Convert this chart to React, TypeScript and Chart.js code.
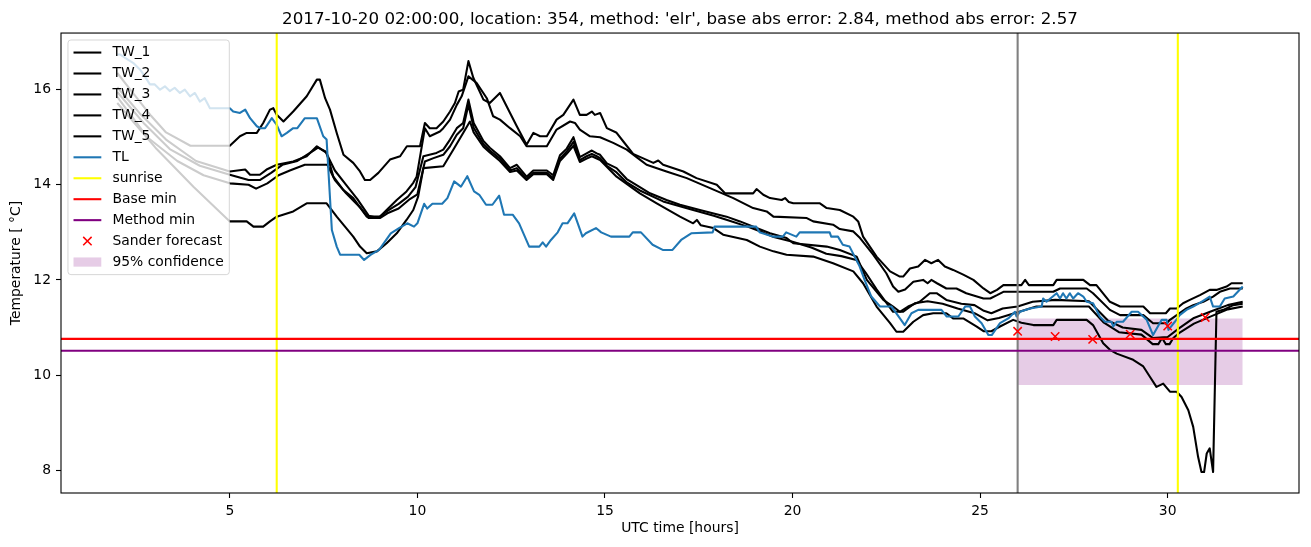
import React, { useEffect, useRef } from 'react';
import { Chart, registerables } from 'chart.js';

Chart.register(...registerables);

// ---------- axis ranges & ticks ----------
const X_MIN = 0.5;
const X_MAX = 33.5;
const Y_MIN = 7.52;
const Y_MAX = 17.19;
const X_TICKS = [5, 10, 15, 20, 25, 30];
const Y_TICKS = [8, 10, 12, 14, 16];

const TITLE = "2017-10-20 02:00:00, location: 354, method: 'elr', base abs error: 2.84, method abs error: 2.57";
const X_LABEL = 'UTC time [hours]';
const Y_LABEL = 'Temperature [ °C]';

// ---------- series (hours, °C) ----------
const TW_1: [number, number][] = [
  [2.0, 16.35], [2.4, 15.95], [2.9, 15.45], [3.3, 15.1], [3.95, 14.82], [5.0, 14.82], [5.27, 15.02], [5.45, 15.09], [5.72, 15.09], [5.89, 15.3], [6.07, 15.58], [6.16, 15.61], [6.25, 15.47], [6.43, 15.33], [6.69, 15.54], [7.05, 15.86], [7.32, 16.21], [7.4, 16.21], [7.54, 15.82], [7.67, 15.58], [7.85, 15.09], [8.03, 14.63], [8.29, 14.46], [8.47, 14.28], [8.6, 14.1], [8.74, 14.1], [8.96, 14.25], [9.27, 14.53], [9.54, 14.6], [9.72, 14.81], [10.07, 14.81], [10.2, 15.3], [10.33, 15.19], [10.51, 15.19], [10.69, 15.33], [10.87, 15.54], [11.0, 15.72], [11.1, 15.96], [11.22, 16.0], [11.36, 16.6], [11.49, 16.25], [11.76, 15.79], [11.93, 15.72], [12.2, 15.93], [12.47, 15.51], [12.65, 15.23], [12.91, 14.84], [13.09, 15.09], [13.27, 15.02], [13.45, 15.02], [13.71, 15.37], [13.89, 15.47], [14.16, 15.79], [14.33, 15.47], [14.51, 15.47], [14.65, 15.54], [14.73, 15.47], [14.87, 15.51], [15.05, 15.19], [15.3, 15.1], [15.49, 14.91], [15.75, 14.65], [16.29, 14.46], [16.42, 14.51], [16.55, 14.42], [17.09, 14.28], [17.44, 14.14], [17.98, 14.0], [18.2, 13.82], [18.95, 13.82], [19.04, 13.91], [19.22, 13.79], [19.4, 13.72], [19.71, 13.68], [19.8, 13.72], [19.9, 13.64], [20.02, 13.61], [20.73, 13.61], [20.91, 13.51], [21.26, 13.47], [21.62, 13.33], [21.75, 13.23], [21.88, 12.91], [22.24, 12.49], [22.6, 12.18], [22.86, 12.07], [22.95, 12.07], [23.13, 12.24], [23.35, 12.28], [23.53, 12.42], [23.7, 12.35], [23.88, 12.42], [24.06, 12.28], [24.28, 12.21], [24.55, 12.11], [24.82, 12.0], [25.09, 11.82], [25.27, 11.72], [25.45, 11.79], [25.62, 11.89], [26.1, 11.89], [26.2, 12.0], [26.3, 11.89], [26.95, 11.89], [27.04, 12.0], [27.75, 12.0], [27.93, 11.89], [28.1, 11.89], [28.46, 11.54], [28.73, 11.44], [29.35, 11.44], [29.53, 11.3], [29.95, 11.3], [30.06, 11.4], [30.24, 11.4], [30.41, 11.51], [30.59, 11.58], [30.86, 11.68], [31.12, 11.79], [31.3, 11.79], [31.57, 11.86], [31.7, 11.93], [32.0, 11.93],
];

const TW_2: [number, number][] = [
  [2.0, 16.05], [2.6, 15.5], [3.3, 14.95], [4.1, 14.5], [5.0, 14.28], [5.41, 14.32], [5.54, 14.21], [5.8, 14.21], [5.98, 14.32], [6.25, 14.42], [6.69, 14.49], [7.05, 14.6], [7.32, 14.81], [7.45, 14.74], [7.58, 14.67], [7.76, 14.17], [8.03, 13.89], [8.29, 13.72], [8.65, 13.33], [9.0, 13.33], [9.18, 13.47], [9.45, 13.68], [9.71, 13.86], [9.89, 14.04], [9.98, 14.17], [10.2, 15.19], [10.33, 15.02], [10.6, 15.12], [10.69, 15.19], [10.87, 15.37], [11.05, 15.68], [11.18, 15.86], [11.36, 16.28], [11.58, 16.14], [11.85, 15.82], [12.02, 15.44], [12.2, 15.37], [12.47, 15.19], [12.74, 15.02], [12.91, 14.81], [13.45, 14.81], [13.71, 15.16], [14.07, 15.33], [14.2, 15.3], [14.33, 15.16], [14.6, 15.02], [14.87, 15.0], [15.22, 14.88], [15.58, 14.74], [15.93, 14.53], [16.11, 14.42], [16.64, 14.28], [17.18, 14.14], [17.8, 13.93], [18.42, 13.72], [18.95, 13.51], [19.31, 13.44], [19.49, 13.33], [20.38, 13.3], [20.55, 13.23], [21.08, 13.16], [21.26, 13.07], [21.62, 13.02], [21.8, 12.88], [22.15, 12.53], [22.5, 12.14], [22.68, 11.86], [22.82, 11.75], [23.0, 11.8], [23.22, 11.96], [23.48, 12.0], [23.6, 11.93], [23.7, 12.0], [23.85, 11.93], [24.1, 11.82], [24.37, 11.82], [24.63, 11.72], [25.09, 11.61], [25.27, 11.61], [25.45, 11.68], [25.62, 11.75], [26.95, 11.75], [27.13, 11.82], [27.84, 11.82], [28.01, 11.72], [28.46, 11.37], [28.73, 11.26], [29.35, 11.26], [29.61, 11.09], [29.97, 11.09], [30.06, 11.16], [30.5, 11.4], [30.68, 11.47], [30.95, 11.54], [31.21, 11.65], [31.39, 11.75], [31.66, 11.82], [32.0, 11.82],
];

const TW_3: [number, number][] = [
  [2.0, 15.95], [2.7, 15.3], [3.4, 14.75], [4.2, 14.4], [5.0, 14.21], [5.5, 14.1], [5.8, 14.1], [6.1, 14.25], [6.4, 14.42], [6.8, 14.5], [7.2, 14.7], [7.35, 14.78], [7.55, 14.7], [7.8, 14.3], [8.1, 14.0], [8.4, 13.7], [8.7, 13.35], [8.95, 13.3], [9.2, 13.45], [9.5, 13.6], [9.75, 13.75], [9.95, 13.95], [10.16, 14.6], [10.51, 14.67], [10.69, 14.74], [10.87, 14.95], [11.05, 15.19], [11.22, 15.3], [11.36, 15.79], [11.5, 15.3], [11.76, 14.92], [11.93, 14.78], [12.2, 14.6], [12.47, 14.35], [12.65, 14.42], [12.91, 14.17], [13.09, 14.3], [13.45, 14.3], [13.62, 14.2], [13.8, 14.62], [13.98, 14.76], [14.16, 15.0], [14.33, 14.58], [14.51, 14.66], [14.65, 14.72], [14.78, 14.66], [14.87, 14.63], [15.05, 14.45], [15.31, 14.35], [15.58, 14.12], [15.93, 13.95], [16.2, 13.82], [16.64, 13.68], [17.0, 13.58], [17.53, 13.47], [18.24, 13.33], [18.6, 13.23], [19.04, 13.09], [19.4, 12.98], [19.84, 12.88], [20.02, 12.77], [20.91, 12.7], [21.26, 12.63], [21.71, 12.49], [21.98, 12.0], [22.42, 11.58], [22.68, 11.44], [22.86, 11.33], [23.08, 11.44], [23.39, 11.54], [23.66, 11.72], [23.84, 11.72], [24.1, 11.58], [24.5, 11.5], [24.85, 11.47], [25.1, 11.35], [25.3, 11.3], [25.6, 11.4], [26.0, 11.44], [26.4, 11.54], [27.0, 11.58], [27.9, 11.55], [28.4, 11.15], [28.8, 11.0], [29.3, 10.95], [29.6, 10.78], [30.0, 10.8], [30.3, 10.98], [30.7, 11.2], [31.2, 11.35], [31.6, 11.47], [32.0, 11.54],
];

const TW_4: [number, number][] = [
  [2.0, 15.85], [2.8, 15.0], [3.6, 14.5], [4.3, 14.2], [5.0, 14.03], [5.5, 14.0], [5.7, 13.92], [6.0, 14.03], [6.3, 14.2], [6.6, 14.3], [7.0, 14.42], [7.6, 14.42], [7.8, 14.1], [8.1, 13.82], [8.5, 13.5], [8.7, 13.3], [9.0, 13.3], [9.2, 13.4], [9.5, 13.5], [9.8, 13.7], [10.0, 13.8], [10.2, 14.49], [10.43, 14.56], [10.69, 14.63], [10.87, 14.81], [11.05, 15.05], [11.22, 15.19], [11.36, 15.68], [11.5, 15.2], [11.76, 14.85], [11.93, 14.72], [12.2, 14.55], [12.47, 14.3], [12.65, 14.35], [12.91, 14.12], [13.09, 14.25], [13.45, 14.25], [13.62, 14.14], [13.8, 14.55], [13.98, 14.7], [14.16, 14.9], [14.33, 14.52], [14.51, 14.6], [14.65, 14.65], [14.78, 14.6], [14.87, 14.56], [15.05, 14.4], [15.31, 14.26], [15.58, 14.05], [15.93, 13.88], [16.55, 13.65], [17.35, 13.47], [17.9, 13.35], [18.3, 13.25], [18.8, 13.12], [19.2, 13.0], [19.5, 12.9], [20.0, 12.8], [20.5, 12.68], [20.9, 12.55], [21.3, 12.5], [21.7, 12.42], [21.95, 12.15], [22.24, 11.8], [22.68, 11.33], [22.95, 11.33], [23.26, 11.51], [23.6, 11.55], [24.0, 11.5], [24.4, 11.4], [24.85, 11.3], [25.2, 11.15], [25.5, 11.2], [26.0, 11.32], [26.5, 11.44], [27.9, 11.44], [28.3, 11.1], [28.7, 10.9], [29.3, 10.85], [29.6, 10.65], [29.75, 10.65], [29.85, 10.78], [29.95, 10.65], [30.05, 10.65], [30.15, 10.78], [30.3, 10.88], [30.7, 11.08], [31.2, 11.25], [31.6, 11.38], [32.0, 11.44],
];

const TW_5: [number, number][] = [
  [2.0, 15.72], [3.05, 14.75], [4.03, 13.96], [5.0, 13.23], [5.45, 13.23], [5.63, 13.12], [5.89, 13.12], [6.07, 13.23], [6.25, 13.33], [6.69, 13.44], [7.05, 13.61], [7.58, 13.61], [7.85, 13.33], [8.29, 12.91], [8.47, 12.7], [8.65, 12.56], [8.92, 12.6], [9.18, 12.77], [9.45, 12.98], [9.71, 13.26], [9.89, 13.47], [10.02, 13.75], [10.16, 14.35], [10.69, 14.39], [10.96, 14.74], [11.22, 15.09], [11.4, 15.33], [11.5, 15.1], [11.76, 14.8], [11.93, 14.68], [12.2, 14.5], [12.47, 14.27], [12.65, 14.3], [12.91, 14.1], [13.09, 14.22], [13.45, 14.22], [13.62, 14.1], [13.8, 14.5], [13.98, 14.65], [14.16, 14.82], [14.33, 14.48], [14.51, 14.55], [14.65, 14.6], [14.87, 14.52], [15.31, 14.17], [15.93, 13.82], [16.38, 13.61], [17.0, 13.33], [17.35, 13.19], [17.45, 13.26], [17.55, 13.15], [17.89, 13.09], [18.15, 12.95], [18.78, 12.84], [19.13, 12.7], [19.49, 12.6], [19.84, 12.53], [20.55, 12.49], [21.08, 12.35], [21.62, 12.18], [21.88, 11.93], [22.24, 11.44], [22.6, 11.09], [22.77, 10.91], [22.95, 10.91], [23.22, 11.12], [23.48, 11.26], [23.75, 11.3], [24.1, 11.3], [24.28, 11.19], [24.55, 11.19], [24.91, 11.02], [25.1, 10.92], [25.3, 10.92], [25.53, 11.02], [25.88, 11.16], [26.1, 11.1], [26.42, 11.05], [26.95, 11.05], [27.04, 11.16], [27.84, 11.16], [28.01, 11.05], [28.28, 10.67], [28.46, 10.53], [28.64, 10.45], [29.08, 10.32], [29.35, 10.18], [29.53, 9.96], [29.7, 9.75], [29.88, 9.82], [30.06, 9.65], [30.24, 9.65], [30.37, 9.54], [30.55, 9.26], [30.68, 8.91], [30.81, 8.28], [30.9, 7.96], [30.97, 7.96], [31.04, 8.35], [31.12, 8.46], [31.21, 7.96], [31.3, 11.33], [31.48, 11.37], [31.75, 11.47], [32.0, 11.5],
];

const TL: [number, number][] = [
  [2.0, 16.74], [2.07, 16.74], [2.21, 16.67], [2.43, 16.56], [2.61, 16.42], [2.79, 16.21], [2.87, 16.11], [3.0, 16.11], [3.14, 16.0], [3.27, 16.07], [3.4, 15.97], [3.53, 16.04], [3.67, 15.93], [3.8, 16.0], [3.94, 15.86], [4.07, 15.93], [4.2, 15.75], [4.33, 15.82], [4.47, 15.61], [5.0, 15.61], [5.09, 15.54], [5.27, 15.51], [5.41, 15.58], [5.54, 15.4], [5.72, 15.23], [5.81, 15.19], [5.94, 15.19], [6.12, 15.4], [6.25, 15.26], [6.38, 15.02], [6.52, 15.09], [6.69, 15.19], [6.8, 15.19], [7.0, 15.4], [7.32, 15.4], [7.49, 15.02], [7.58, 14.95], [7.72, 13.05], [7.85, 12.7], [7.94, 12.53], [8.45, 12.53], [8.58, 12.42], [8.76, 12.53], [8.98, 12.63], [9.29, 12.98], [9.51, 13.09], [9.73, 13.19], [9.91, 13.12], [10.0, 13.19], [10.18, 13.6], [10.26, 13.5], [10.4, 13.6], [10.66, 13.6], [10.8, 13.72], [10.98, 14.07], [11.16, 13.96], [11.33, 14.18], [11.51, 13.86], [11.65, 13.79], [11.83, 13.58], [12.0, 13.58], [12.18, 13.77], [12.31, 13.37], [12.54, 13.37], [12.71, 13.19], [12.98, 12.7], [13.25, 12.7], [13.34, 12.79], [13.43, 12.7], [13.56, 12.84], [13.74, 13.0], [13.87, 13.19], [14.0, 13.19], [14.18, 13.4], [14.4, 12.91], [14.49, 12.98], [14.76, 13.09], [14.9, 13.0], [15.16, 12.91], [15.65, 12.91], [15.74, 13.0], [15.96, 13.0], [16.27, 12.74], [16.54, 12.63], [16.8, 12.63], [17.03, 12.84], [17.3, 12.98], [17.87, 13.0], [17.92, 13.12], [19.03, 13.12], [19.12, 13.0], [19.47, 12.91], [19.74, 12.91], [19.83, 13.0], [20.1, 12.91], [20.19, 13.0], [20.99, 13.0], [21.03, 12.91], [21.21, 12.91], [21.34, 12.74], [21.52, 12.7], [21.79, 12.28], [21.92, 12.0], [22.1, 11.65], [22.33, 11.44], [22.64, 11.44], [22.99, 11.05], [23.17, 11.3], [23.35, 11.37], [23.97, 11.37], [24.11, 11.23], [24.42, 11.23], [24.6, 11.44], [24.73, 11.44], [24.86, 11.23], [25.04, 11.09], [25.22, 10.84], [25.31, 10.84], [25.53, 11.09], [25.75, 11.19], [25.93, 11.33], [25.97, 11.23], [26.06, 11.33], [26.33, 11.4], [26.64, 11.44], [26.68, 11.61], [26.77, 11.54], [27.04, 11.72], [27.13, 11.61], [27.21, 11.72], [27.3, 11.61], [27.39, 11.72], [27.48, 11.61], [27.61, 11.72], [27.75, 11.65], [27.84, 11.54], [28.01, 11.51], [28.19, 11.23], [28.33, 11.12], [28.5, 11.12], [28.55, 11.02], [28.64, 11.12], [28.81, 11.12], [29.04, 11.33], [29.21, 11.33], [29.44, 11.16], [29.61, 10.84], [29.84, 11.16], [29.97, 11.16], [30.02, 10.95], [30.19, 11.12], [30.32, 11.26], [30.5, 11.37], [30.68, 11.44], [30.9, 11.54], [31.12, 11.65], [31.21, 11.44], [31.39, 11.44], [31.52, 11.61], [31.75, 11.65], [32.0, 11.86],
];

const SUNRISE = [6.25, 30.27];
const FORECAST_START = 26;
const BASE_MIN = 10.76;
const METHOD_MIN = 10.51;
const SANDER_X = [26, 27, 28, 29, 30, 31];
const SANDER_Y = [10.92, 10.81, 10.75, 10.86, 11.03, 11.21];
const CONF_X = [26, 32];
const CONF_LOW = 9.79;
const CONF_HIGH = 11.19;

// ---------- styling ----------
const FONT = '"DejaVu Sans", sans-serif';
const LW = 2.08;
const BLUE = '#1f77b4';
const CONF_COLOR = 'rgba(128,0,128,0.2)';

type LegendItem = { label: string; kind: 'line' | 'marker' | 'patch'; color: string };
const LEGEND: LegendItem[] = [
  { label: 'TW_1', kind: 'line', color: '#000000' },
  { label: 'TW_2', kind: 'line', color: '#000000' },
  { label: 'TW_3', kind: 'line', color: '#000000' },
  { label: 'TW_4', kind: 'line', color: '#000000' },
  { label: 'TW_5', kind: 'line', color: '#000000' },
  { label: 'TL', kind: 'line', color: BLUE },
  { label: 'sunrise', kind: 'line', color: '#ffff00' },
  { label: 'Base min', kind: 'line', color: '#ff0000' },
  { label: 'Method min', kind: 'line', color: '#800080' },
  { label: 'Sander forecast', kind: 'marker', color: '#ff0000' },
  { label: '95% confidence', kind: 'patch', color: CONF_COLOR },
];

const pts = (arr: [number, number][]) => arr.map(([x, y]) => ({ x, y }));

const lineDs = (label: string, data: { x: number; y: number | null }[], color: string, order: number, width = LW) => ({
  label,
  data,
  borderColor: color,
  backgroundColor: color,
  borderWidth: width,
  pointRadius: 0,
  tension: 0,
  fill: false,
  borderJoinStyle: 'round' as const,
  order,
});

const frameLegendPlugin = {
  id: 'frameLegend',
  afterDatasetsDraw(chart: any) {
    const { ctx, chartArea: a } = chart;
    ctx.save();
    // frame (all four spines)
    ctx.strokeStyle = '#000';
    ctx.lineWidth = 1.1;
    ctx.strokeRect(a.left, a.top, a.right - a.left, a.bottom - a.top);

    // legend
    const fs = 13.9;
    ctx.font = `${fs}px ${FONT}`;
    const pad = 5.56;
    const handleLen = 27.8;
    const textPad = 11.1;
    const rowH = 20.95;
    const spacing = 6.95;
    const maxW = Math.max(...LEGEND.map((l) => ctx.measureText(l.label).width));
    const bx = a.left + 6.95;
    const by = a.top + 6.95;
    const bw = pad * 2 + handleLen + textPad + maxW;
    const bh = pad * 2 + LEGEND.length * rowH - spacing;
    const r = 3;
    ctx.beginPath();
    ctx.moveTo(bx + r, by);
    ctx.lineTo(bx + bw - r, by);
    ctx.arcTo(bx + bw, by, bx + bw, by + r, r);
    ctx.lineTo(bx + bw, by + bh - r);
    ctx.arcTo(bx + bw, by + bh, bx + bw - r, by + bh, r);
    ctx.lineTo(bx + r, by + bh);
    ctx.arcTo(bx, by + bh, bx, by + bh - r, r);
    ctx.lineTo(bx, by + r);
    ctx.arcTo(bx, by, bx + r, by, r);
    ctx.closePath();
    ctx.fillStyle = 'rgba(255,255,255,0.8)';
    ctx.fill();
    ctx.strokeStyle = 'rgba(204,204,204,0.8)';
    ctx.lineWidth = 1;
    ctx.stroke();

    LEGEND.forEach((item, i) => {
      const cy = by + pad + (rowH - spacing) / 2 + i * rowH;
      const hx = bx + pad;
      if (item.kind === 'line') {
        ctx.strokeStyle = item.color;
        ctx.lineWidth = LW;
        ctx.beginPath();
        ctx.moveTo(hx, cy);
        ctx.lineTo(hx + handleLen, cy);
        ctx.stroke();
      } else if (item.kind === 'marker') {
        const cx = hx + handleLen / 2;
        const h = 4.2;
        ctx.strokeStyle = item.color;
        ctx.lineWidth = 1.5;
        ctx.beginPath();
        ctx.moveTo(cx - h, cy - h);
        ctx.lineTo(cx + h, cy + h);
        ctx.moveTo(cx - h, cy + h);
        ctx.lineTo(cx + h, cy - h);
        ctx.stroke();
      } else {
        ctx.fillStyle = item.color;
        ctx.fillRect(hx, cy - 4.6, handleLen, 9.2);
      }
      ctx.fillStyle = '#000';
      ctx.textBaseline = 'middle';
      ctx.textAlign = 'left';
      ctx.fillText(item.label, hx + handleLen + textPad, cy);
    });
    ctx.restore();
  },
};

export default function App() {
  const ref = useRef<HTMLCanvasElement>(null);

  useEffect(() => {
    document.body.style.margin = '0';
    Chart.defaults.font.family = FONT;
    Chart.defaults.color = '#000';

    const datasets: any[] = [
      {
        label: 'Sander forecast',
        data: SANDER_X.map((x, i) => ({ x, y: SANDER_Y[i] })),
        showLine: false,
        pointStyle: 'crossRot',
        pointRadius: 5.9,
        pointBorderWidth: 1.5,
        pointBorderColor: '#ff0000',
        pointBackgroundColor: '#ff0000',
        borderColor: '#ff0000',
        order: 0,
      },
      lineDs('Method min', [{ x: X_MIN, y: METHOD_MIN }, { x: X_MAX, y: METHOD_MIN }], '#800080', 1),
      lineDs('Base min', [{ x: X_MIN, y: BASE_MIN }, { x: X_MAX, y: BASE_MIN }], '#ff0000', 2),
      lineDs('sunrise', [{ x: SUNRISE[0], y: Y_MIN }, { x: SUNRISE[0], y: Y_MAX }], '#ffff00', 3),
      lineDs('sunrise 2', [{ x: SUNRISE[1], y: Y_MIN }, { x: SUNRISE[1], y: Y_MAX }], '#ffff00', 3),
      lineDs('forecast start', [{ x: FORECAST_START, y: Y_MIN }, { x: FORECAST_START, y: Y_MAX }], '#808080', 4),
      lineDs('TL', pts(TL), BLUE, 5),
      lineDs('TW_5', pts(TW_5), '#000000', 6),
      lineDs('TW_4', pts(TW_4), '#000000', 7),
      lineDs('TW_3', pts(TW_3), '#000000', 8),
      lineDs('TW_2', pts(TW_2), '#000000', 9),
      lineDs('TW_1', pts(TW_1), '#000000', 10),
      {
        label: '95% confidence',
        data: CONF_X.map((x) => ({ x, y: CONF_HIGH })),
        borderColor: 'rgba(0,0,0,0)',
        borderWidth: 0,
        pointRadius: 0,
        backgroundColor: CONF_COLOR,
        fill: { value: CONF_LOW },
        order: 11,
      },
    ];

    const tickFont = { family: FONT, size: 13.9 };
    const grid = {
      display: true,
      drawOnChartArea: false,
      drawTicks: true,
      tickLength: 5,
      tickColor: '#000',
      tickWidth: 1.1,
    };

    const chart = new Chart(ref.current as HTMLCanvasElement, {
      type: 'line',
      data: { datasets },
      plugins: [frameLegendPlugin],
      options: {
        animation: false,
        responsive: false,
        events: [],
        layout: { padding: { left: 0, right: 12, top: 0, bottom: 0 } },
        plugins: {
          legend: { display: false },
          tooltip: { enabled: false },
          title: {
            display: true,
            text: TITLE,
            color: '#000',
            fullSize: false,
            font: { family: FONT, size: 16.7, weight: 'normal', lineHeight: 1.2 },
            padding: { top: 10, bottom: 3 },
          },
        },
        scales: {
          x: {
            type: 'linear',
            min: X_MIN,
            max: X_MAX,
            afterBuildTicks: (s: any) => {
              s.ticks = X_TICKS.map((v) => ({ value: v }));
            },
            afterFit: (s: any) => {
              s.height = 54;
            },
            grid,
            border: { display: false },
            ticks: { color: '#000', font: tickFont, padding: 5, maxRotation: 0, autoSkip: false, callback: (v: any) => String(v) },
            title: { display: true, text: X_LABEL, color: '#000', font: tickFont, padding: { top: 0, bottom: 10 } },
          },
          y: {
            type: 'linear',
            min: Y_MIN,
            max: Y_MAX,
            afterBuildTicks: (s: any) => {
              s.ticks = Y_TICKS.map((v) => ({ value: v }));
            },
            afterFit: (s: any) => {
              s.width = 61;
            },
            grid,
            border: { display: false },
            ticks: { color: '#000', font: tickFont, padding: 5, autoSkip: false, callback: (v: any) => String(v) },
            title: { display: true, text: Y_LABEL, color: '#000', font: tickFont, padding: { top: 8, bottom: 0 } },
          },
        },
      } as any,
    });
    return () => chart.destroy();
  }, []);

  return (
    <div style={{ position: 'absolute', left: 0, top: 0, width: 1311, height: 547, background: '#ffffff' }}>
      <canvas ref={ref} width={1311} height={547} style={{ display: 'block', width: 1311, height: 547 }} />
    </div>
  );
}
